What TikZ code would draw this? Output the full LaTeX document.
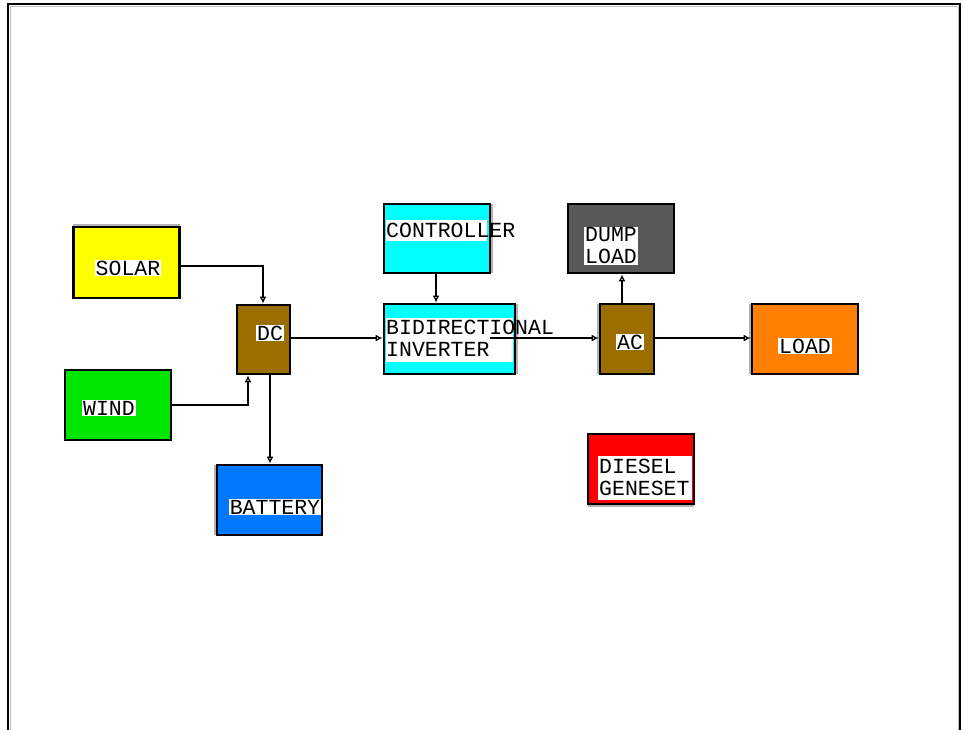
\documentclass[tikz,border=0pt]{standalone}
\usepackage{fontspec}
\setmonofont{Liberation Mono}
\usetikzlibrary{arrows.meta}
\definecolor{cyellow}{RGB}{255,255,0}
\definecolor{cgreen}{RGB}{0,230,0}
\definecolor{cbrown}{RGB}{156,110,0}
\definecolor{cblue}{RGB}{0,120,255}
\definecolor{ccyan}{RGB}{0,255,255}
\definecolor{cdark}{RGB}{88,88,88}
\definecolor{corange}{RGB}{255,128,0}
\definecolor{cred}{RGB}{255,0,0}
\tikzset{
  blk/.style={draw=black, line width=2.8pt, inner sep=0pt, minimum width=#1},
  blk/.default=106pt,
  lbl/.style={fill=white, inner sep=1pt, font=\ttfamily\fontsize{21.5}{22}\selectfont, text=black},
  conn/.style={draw=black, line width=1.3pt, -{Latex[open,length=7pt,width=7pt]}},
  edge2/.style={draw=gray!60, line width=1.2pt},
}
\begin{document}
\begin{tikzpicture}[x=1pt,y=-1pt]
\useasboundingbox (0,0) rectangle (965,729);
% outer frame
\draw[line width=1.6pt] (8,740) -- (8,4) -- (960,4) -- (960,740);
\draw[gray!50, line width=0.8pt] (10,740) -- (10,6.5) -- (958,6.5) -- (958,740);

% boxes
\node[blk, fill=cyellow, minimum height=71pt] (solar) at (126.5,262.5) {};
\draw[edge2] (73,225) -- (180,225);
\node[blk, fill=cgreen, minimum height=70pt] (wind) at (118,405) {};
\node[blk=53pt, fill=cbrown, minimum height=69pt] (dc) at (263.5,339.5) {};
\node[blk=105pt, fill=cblue, minimum height=70pt] (battery) at (269.5,500) {};
\draw[edge2] (215,465) -- (215,535);
\node[blk, fill=ccyan, minimum height=69pt] (ctrl) at (437,238.5) {};
\draw[edge2] (492,204) -- (492,273);
\node[blk=131pt, fill=ccyan, minimum height=70pt] (inv) at (449.5,339) {};
\draw[edge2] (517,304) -- (517,374);
\node[blk, fill=cdark, minimum height=69pt] (dump) at (621,238.5) {};
\node[blk=54pt, fill=cbrown, minimum height=70pt] (ac) at (627,339) {};
\draw[edge2] (598,304) -- (598,374);
\node[blk, fill=corange, minimum height=70pt] (load) at (805,339) {};
\draw[edge2] (750,304) -- (750,374);
\node[blk, fill=cred, minimum height=70pt] (diesel) at (641,469) {};
\draw[edge2] (588,506) -- (694,506);

% white bands
\fill[white] (386,220) rectangle (487,241);
\fill[white] (386,318) rectangle (513,362);
\fill[white] (598,456) rectangle (692,500);

% connectors
\coordinate (s1) at (263,266);
\draw[conn] (solar.east |- s1) -- (s1) -- (s1 |- dc.north);
\coordinate (w1) at (248,405);
\draw[conn] (wind.east |- w1) -- (w1) -- (w1 |- dc.south);
\coordinate (d1) at (270,338);
\draw[conn] (dc.east |- d1) -- (inv.west |- d1);
\coordinate (d2) at (270,374);
\draw[conn] (dc.south -| d2) -- (battery.north -| d2);
\coordinate (c1) at (436,273);
\draw[conn] (ctrl.south -| c1) -- (inv.north -| c1);
\coordinate (i1) at (490,338);
\draw[conn] (i1) -- (ac.west |- i1);
\coordinate (a1) at (622,304);
\draw[conn] (ac.north -| a1) -- (dump.south -| a1);
\coordinate (a2) at (654,338);
\draw[conn] (ac.east |- a2) -- (load.west |- a2);

% labels
\node[lbl] (tsolar) at (128,268) {SOLAR};
\node[lbl] (twind) at (109,408) {WIND};
\node[lbl] (tdc) at (270,333) {DC};
\node[lbl] (tbat) at (275,507) {BATTERY};
\node[lbl, fill=none, anchor=west, inner sep=0pt] (tctrl) at (386,230) {CONTROLLER};
\node[lbl, fill=none, anchor=west, inner sep=0pt, align=left] (tinv) at (386,338) {BIDIRECTIONAL\\INVERTER};
\node[lbl, anchor=west, align=left] (tdump) at (584,246) {DUMP\\LOAD};
\node[lbl] (tac) at (630,342) {AC};
\node[lbl] (tload) at (805,346) {LOAD};
\node[lbl, fill=none, anchor=west, inner sep=0pt, align=left] (tdiesel) at (599,477) {DIESEL\\GENESET};
\end{tikzpicture}
\end{document}
